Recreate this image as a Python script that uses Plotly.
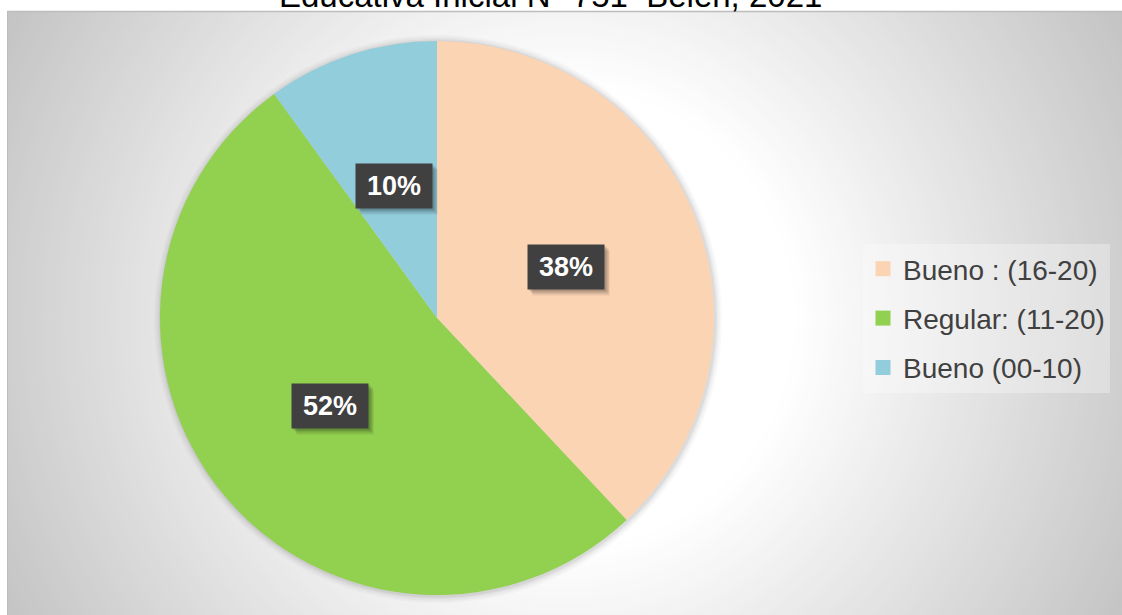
import math
import plotly.graph_objects as go

# ---- data ----
categories = ["Bueno : (16-20)", "Regular: (11-20)", "Bueno (00-10)"]
values = [38, 52, 10]
pct_labels = ["38%", "52%", "10%"]
title_text = "Educativa Inicial N° 751  Belén, 2021"

# ---- style ----
colors = ["#FBD4B4", "#92D050", "#92CDDC"]
W, H = 1122, 615
PIE_CX, PIE_CY, PIE_R = 437, 318, 277   # pixel geometry of pie (layout)
FONT = "Liberation Sans, Arial, sans-serif"

fig = go.Figure()

fig.add_trace(go.Pie(
    labels=categories, values=values, sort=False, direction="clockwise",
    rotation=0, marker=dict(colors=colors, line=dict(width=0)),
    textinfo="none", hoverinfo="label+percent", showlegend=False,
    domain=dict(x=[(PIE_CX - PIE_R) / W, (PIE_CX + PIE_R) / W],
                y=[1 - (PIE_CY + PIE_R) / H, 1 - (PIE_CY - PIE_R) / H]),
))

# legend entries (square swatches, spaced like the reference)
for name, col in zip(categories, colors):
    fig.add_trace(go.Scatter(
        x=[None], y=[None], mode="markers", name=name, legendgroup=name,
        marker=dict(symbol="square", size=15, color=col), hoverinfo="skip"))

# ---- background radial gradient (concentric circles) ----
shapes = []
GCX, GCY = 565, 318
rad = 680
while rad >= 226:
    if rad <= 230:
        g = 255
    else:
        g = max(194, 255 - (rad - 230) * 0.146)
    g = int(round(g))
    shapes.append(dict(type="circle", xref="paper", yref="paper",
                       xsizemode="pixel", ysizemode="pixel",
                       xanchor=GCX / W, yanchor=1 - GCY / H,
                       x0=-rad, x1=rad, y0=-rad, y1=rad,
                       fillcolor=f"rgb({g},{g},{g})", line=dict(width=0), layer="below"))
    rad -= 5
# soft shadow around pie
for dr, a in [(7, 0.025), (5, 0.03), (3, 0.04), (1.5, 0.05)]:
    shapes.append(dict(type="circle", xref="paper", yref="paper",
                       xsizemode="pixel", ysizemode="pixel",
                       xanchor=PIE_CX / W, yanchor=1 - PIE_CY / H,
                       x0=-(PIE_R + dr) + 1, x1=PIE_R + dr + 1, y0=-(PIE_R + dr) - 1, y1=PIE_R + dr - 1,
                       fillcolor=f"rgba(0,0,0,{a})", line=dict(width=0), layer="below"))
# white margins outside chart area
shapes.append(dict(type="rect", xref="paper", yref="paper", x0=0, x1=7 / W, y0=0, y1=1,
                   fillcolor="white", line=dict(width=0), layer="below"))
shapes.append(dict(type="rect", xref="paper", yref="paper", x0=0, x1=1, y0=1 - 11 / H, y1=1,
                   fillcolor="white", line=dict(width=0), layer="below"))
# chart-area border
shapes.append(dict(type="line", xref="paper", yref="paper", x0=7 / W, x1=1, y0=1 - 11.5 / H, y1=1 - 11.5 / H,
                   line=dict(color="#bdbdbd", width=1.5), layer="below"))
shapes.append(dict(type="line", xref="paper", yref="paper", x0=7.5 / W, x1=7.5 / W, y0=0, y1=1 - 11 / H,
                   line=dict(color="#bdbdbd", width=1), layer="below"))

# ---- percentage labels placed at slice mid-angles ----
annotations = []
total = sum(values)
cum = 0
for val, lab in zip(values, pct_labels):
    mid = (cum + val / 2) / total * 2 * math.pi
    cum += val
    px = PIE_CX + 0.5 * PIE_R * math.sin(mid)
    py = PIE_CY - 0.5 * PIE_R * math.cos(mid)
    ax, ay = px / W, 1 - py / H
    for sx, sy, a in [(5, -6, 0.08), (4, -4, 0.12), (2, -2, 0.15)]:
        annotations.append(dict(x=ax, y=ay, xref="paper", yref="paper", text=" ",
                                xanchor="center", yanchor="middle",
                                showarrow=False, width=74, height=42, bgcolor=f"rgba(0,0,0,{a})",
                                xshift=sx, yshift=sy, font=dict(size=27)))
    annotations.append(dict(x=ax, y=ay, xref="paper", yref="paper", text=f"<b>{lab}</b>",
                            xanchor="center", yanchor="middle",
                            showarrow=False, width=74, height=42, bgcolor="#404040",
                            font=dict(family=FONT, size=27, color="white")))

# ---- title (partially cut at top, as in reference) ----
annotations.append(dict(x=550 / W, y=1, xref="paper", yref="paper", text=title_text,
                        showarrow=False, xanchor="center", yanchor="middle", yshift=5,
                        font=dict(family=FONT, size=33, color="#000000")))

fig.update_layout(
    width=W, height=H, margin=dict(l=0, r=0, t=0, b=0),
    paper_bgcolor="white", plot_bgcolor="rgba(0,0,0,0)",
    xaxis=dict(visible=False), yaxis=dict(visible=False),
    shapes=shapes, annotations=annotations,
    legend=dict(x=863 / W, y=1 - 244 / H, xanchor="left", yanchor="top",
                bgcolor="rgba(255,255,255,0.3)", borderwidth=0,
                font=dict(family=FONT, size=28, color="#404040"),
                tracegroupgap=10, itemsizing="trace"),
)

fig.write_html("out.html", config={"displayModeBar": False},
               post_script="document.body.style.margin='0';document.body.style.overflow='hidden';")
